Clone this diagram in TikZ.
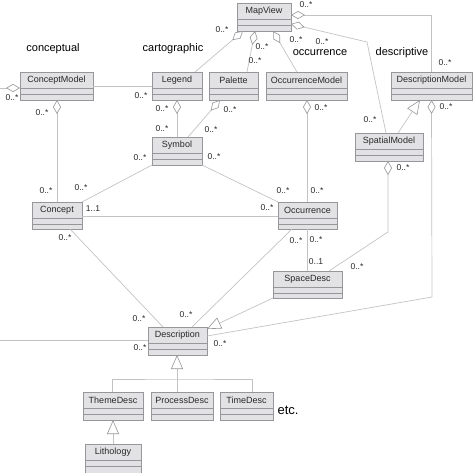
\documentclass[tikz,border=0pt]{standalone}
\usepackage{fontspec}
\setmainfont{Liberation Sans}
\usetikzlibrary{arrows.meta,calc}
\definecolor{boxfill}{RGB}{226,226,229}
\definecolor{boxline}{RGB}{150,150,155}
\definecolor{conncol}{RGB}{195,195,198}
\definecolor{txt}{RGB}{40,40,40}
\tikzset{
 clsbox/.style={draw=boxline, fill=boxfill, line width=0.7pt, inner sep=0pt, outer sep=0pt},
 clstext/.style={font=\fontsize{9}{10}\selectfont, text=txt, inner sep=0pt},
 sepline/.style={draw=boxline, line width=0.5pt},
 connline/.style={draw=conncol, line width=0.7pt},
 agg/.style={connline, {Diamond[length=14pt,width=8pt,color=boxline,fill=white,line width=0.6pt]}-},
 gen/.style={connline, -{Triangle[length=14pt,width=12pt,color=boxline,fill=white,line width=0.6pt]}},
 mult/.style={font=\fontsize{8.5}{9}\selectfont, text=txt, inner sep=0pt},
 area/.style={font=\fontsize{11}{12}\selectfont, text=black, inner sep=0pt},
}
\newcommand\umlclass[6]{%
 \node[clsbox, minimum width={(#4-#2)*1pt}, minimum height={(#5-#3)*1pt}] (#1) at ({(#2+#4)/2},{(#3+#5)/2}) {};
 \node[clstext] (#1-t) at ([yshift=-8pt]#1.north) {#6};
 \draw[sepline] ([yshift=-16pt]#1.north west) -- ([yshift=-16pt]#1.north east);
 \draw[sepline] ([yshift=-22pt]#1.north west) -- ([yshift=-22pt]#1.north east);
}
\newcommand\mlabel[4]{\node[mult] (#1) at (#2,#3) {#4};}
\begin{document}
\begin{tikzpicture}[x=1pt,y=-1pt]
\useasboundingbox (0,0) rectangle (474,472);
\umlclass{MapView}{237}{3}{291}{31}{MapView}
\umlclass{ConceptModel}{20}{72}{93}{100}{ConceptModel}
\umlclass{Legend}{152}{72}{202}{100}{Legend}
\umlclass{Palette}{209}{72}{258}{100}{Palette}
\umlclass{OccurrenceModel}{266}{72}{347}{100}{OccurrenceModel}
\umlclass{DescriptionModel}{391}{72}{472}{100}{DescriptionModel}
\umlclass{Symbol}{152}{137}{202}{165}{Symbol}
\umlclass{SpatialModel}{355}{133}{423}{161}{SpatialModel}
\umlclass{Concept}{32}{202}{82}{229}{Concept}
\umlclass{Occurrence}{278}{202}{337}{229}{Occurrence}
\umlclass{SpaceDesc}{273}{271}{342}{298}{SpaceDesc}
\umlclass{Description}{148}{327}{207}{355}{Description}
\umlclass{ThemeDesc}{83}{392}{143}{420}{ThemeDesc}
\umlclass{ProcessDesc}{151}{392}{213}{420}{ProcessDesc}
\umlclass{TimeDesc}{220}{392}{273}{420}{TimeDesc}
\umlclass{Lithology}{85}{444}{141}{474}{Lithology}

\coordinate (lftA) at (0,88);
\coordinate (lftB) at (0,340);
\coordinate (bendS) at (367,42);
\coordinate (bendP) at (388,232);
\coordinate (bendD) at (432,297);
\coordinate (joint) at (177,379);

\draw[connline] ([yshift=-14pt]ConceptModel.north east) -- ([yshift=-14pt]Legend.north west);
\draw[agg] ([yshift=-16pt]ConceptModel.north west) -- (lftA);
\draw[agg] ([xshift=37pt]ConceptModel.south west) -- ([xshift=25pt]Concept.north west);
\draw[agg] ([xshift=6pt]MapView.south west) -- ([xshift=43pt]Legend.north west);
\draw[agg] ([xshift=18pt]MapView.south west) -- ([xshift=38pt]Palette.north west);
\draw[agg] ([xshift=36pt]MapView.south west) -- ([xshift=31pt]OccurrenceModel.north west);
\draw[agg] ([yshift=-12pt]MapView.north east) -| (DescriptionModel.north);
\draw[agg] ([yshift=-21pt]MapView.north east) -- (bendS) -- ([xshift=31pt]SpatialModel.north west);
\draw[agg] ([xshift=41pt]OccurrenceModel.south west) -- ([xshift=29pt]Occurrence.north west);
\draw[agg] (Legend.south) -- (Symbol.north);
\draw[agg] ([xshift=11pt]Palette.south west) -- ([xshift=36pt]Symbol.north west);
\draw[connline] (Symbol.south west) -- (Concept.north east);
\draw[connline] (Symbol.south east) -- (Occurrence.north west);
\draw[connline] ([yshift=-14pt]Concept.north east) -- ([yshift=-14pt]Occurrence.north west);
\draw[connline] ([xshift=38pt]Concept.south west) -- ([xshift=15pt]Description.north west);
\draw[connline] ([xshift=14pt]Occurrence.south west) -- ([xshift=44pt]Description.north west);
\draw[connline] ([xshift=29pt]Occurrence.south west) -- ([xshift=34pt]SpaceDesc.north west);
\draw[agg] ([xshift=33pt]SpatialModel.south west) -- (bendP) -- ([xshift=56pt]SpaceDesc.north west);
\draw[gen] ([xshift=43pt]SpatialModel.north west) -- ([xshift=29pt]DescriptionModel.south west);
\draw[agg] (DescriptionModel.south) -- (bendD) -- ([yshift=-9pt]Description.north east);
\draw[gen] (SpaceDesc.south west) -- ([yshift=-2pt]Description.north east);
\draw[connline] ([yshift=-13pt]Description.north west) -- (lftB);
\draw[gen] ([xshift=26pt]ProcessDesc.north west) -- ([xshift=29pt]Description.south west);
\draw[connline] ([xshift=29pt]ThemeDesc.north west) |- (joint) -| ([xshift=32pt]TimeDesc.north west);
\draw[gen] ([xshift=28pt]Lithology.north west) -- ([xshift=30pt]ThemeDesc.south west);

\node[area] (aConceptual) at (53,49) {conceptual};
\node[area] (aCarto) at (173,49) {cartographic};
\node[area] (aOcc) at (320,53) {occurrence};
\node[area] (aDesc) at (402,53) {descriptive};
\node[font=\fontsize{13}{14}\selectfont, inner sep=0pt] (aEtc) at (288,410) {etc.};

\mlabel{m1}{306}{5}{0..*}
\mlabel{m2}{222}{30}{0..*}
\mlabel{m3}{262}{47}{0..*}
\mlabel{m4}{255}{61}{0..*}
\mlabel{m5}{296}{40}{0..*}
\mlabel{m6}{322}{42}{0..*}
\mlabel{m7}{445}{63}{0..*}
\mlabel{m8}{12}{98}{0..*}
\mlabel{m9}{42}{113}{0..*}
\mlabel{m10}{141}{96}{0..*}
\mlabel{m11}{162}{109}{0..*}
\mlabel{m12}{162}{129}{0..*}
\mlabel{m13}{230}{110}{0..*}
\mlabel{m14}{211}{130}{0..*}
\mlabel{m15}{321}{108}{0..*}
\mlabel{m16}{446}{107}{0..*}
\mlabel{m17}{370}{120}{0..*}
\mlabel{m18}{403}{168}{0..*}
\mlabel{m19}{140}{158}{0..*}
\mlabel{m20}{214}{157}{0..*}
\mlabel{m21}{46}{191}{0..*}
\mlabel{m22}{81}{188}{0..*}
\mlabel{m23}{283}{191}{0..*}
\mlabel{m24}{317}{191}{0..*}
\mlabel{m25}{93}{209}{1..1}
\mlabel{m26}{267}{208}{0..*}
\mlabel{m27}{65}{238}{0..*}
\mlabel{m28}{296}{241}{0..*}
\mlabel{m29}{316}{240}{0..*}
\mlabel{m30}{316}{262}{0..1}
\mlabel{m31}{357}{267}{0..*}
\mlabel{m32}{139}{319}{0..*}
\mlabel{m33}{186}{315}{0..*}
\mlabel{m34}{140}{348}{0..*}
\mlabel{m35}{220}{344}{0..*}
\end{tikzpicture}
\end{document}
